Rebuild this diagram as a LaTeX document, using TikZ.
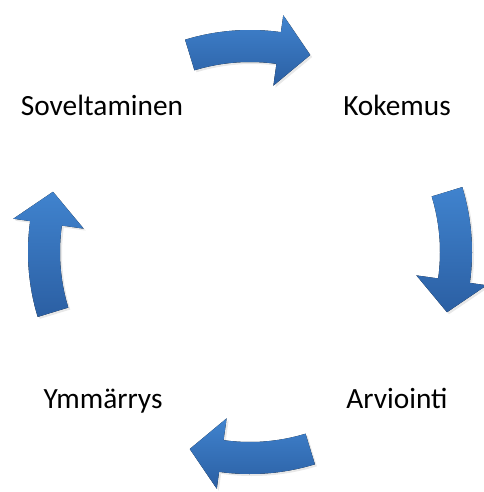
\documentclass[tikz,border=0pt]{standalone}
\usepackage{fontspec}
\setmainfont{Carlito}
\usetikzlibrary{positioning, shadows}

\definecolor{cyclelight}{RGB}{64,131,206}
\definecolor{cycledark}{RGB}{43,95,163}

\begin{document}
\begin{tikzpicture}[x=0.75pt, y=0.75pt,
  lbl/.style={font=\fontsize{22}{26}\selectfont, text=black, inner sep=0pt, anchor=base},
  bentarrow/.style={top color=cyclelight, bottom color=cycledark, draw=none,
                    drop shadow={opacity=0.18, shadow xshift=1.5pt, shadow yshift=-1.5pt}},
]
\useasboundingbox (0,0) rectangle (483,-492);

% ---------- Stage labels ----------
\node[lbl] (sov) at (102,-115) {Soveltaminen};
\node[lbl] (kok) at (397,-115) {Kokemus};
\node[lbl] (arv) at (397,-408) {Arviointi};
\node[lbl] (ymm) at (103,-408) {Ymmärrys};

% ---------- Curved arrows round the cycle ----------
\begin{scope}[shift={(250,-252)}]
\foreach \a in {90,0,-90,180}
  \fill[bentarrow] (\a+17:222) arc[start angle=\a+17, end angle=\a-8, radius=222]
    -- (\a-8:239) -- (\a-17:206) -- (\a-8:168) -- (\a-8:190)
    arc[start angle=\a-8, end angle=\a+17, radius=190] -- cycle;
\end{scope}

\end{tikzpicture}
\end{document}
